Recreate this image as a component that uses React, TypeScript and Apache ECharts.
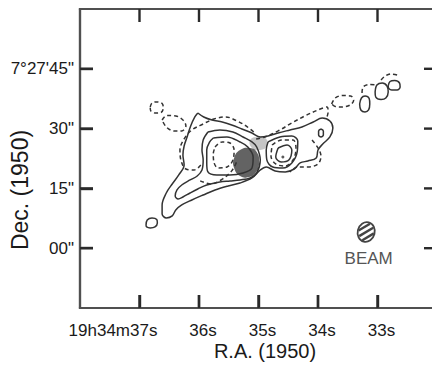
import React, { useEffect, useRef } from "react";
import * as echarts from "echarts";

// Axis ticks and labels (R.A. in seconds of time, Dec. in arcsec offsets from 7°27')
const raMin = 32;
const raMax = 38;
const decMin = -15;
const decMax = 60;
const raTicks = [33, 34, 35, 36, 37];
const raTickLabels = ["33s", "34s", "35s", "36s", "37s"];
const raPrefix = "19h34m";
const decTicks = [0, 15, 30, 45];
const decTickLabels = ['00"', '15"', '30"', "7°27'45\""];
const xTitle = "R.A. (1950)";
const yTitle = "Dec. (1950)";
const beamText = "BEAM";

// Solid contours [RA s, Dec "]
const solidOuter = [[36.02,33.92],[35.92,32.92],[35.78,32.16],[35.61,31.66],[35.45,30.91],[35.28,29.91],[35.11,28.90],[34.97,27.90],[34.84,28.15],[34.67,28.90],[34.47,29.66],[34.27,30.41],[34.08,31.66],[33.93,32.67],[33.80,31.91],[33.75,30.16],[33.80,27.90],[33.92,26.14],[34.00,24.64],[34.03,22.63],[34.17,21.88],[34.30,21.38],[34.40,19.87],[34.55,19.12],[34.72,19.37],[34.87,20.37],[34.97,19.62],[35.11,17.62],[35.31,16.36],[35.51,15.61],[35.73,14.61],[35.93,13.35],[36.12,12.10],[36.29,10.85],[36.39,9.59],[36.45,8.09],[36.55,7.59],[36.62,8.59],[36.62,10.85],[36.55,13.85],[36.45,16.11],[36.34,18.37],[36.25,20.88],[36.27,23.39],[36.25,25.64],[36.20,27.90],[36.14,30.66],[36.07,32.92],[36.02,33.92]];
const solidMid = [[35.85,29.15],[35.65,29.66],[35.43,29.15],[35.26,27.90],[35.11,26.65],[35.03,25.39],[34.97,22.13],[35.03,18.87],[35.14,17.62],[35.31,17.12],[35.48,16.86],[35.65,16.61],[35.87,15.86],[36.02,14.86],[36.15,13.85],[36.27,12.85],[36.35,12.35],[36.40,13.10],[36.37,14.61],[36.29,15.86],[36.15,17.12],[36.03,18.12],[35.95,19.62],[35.93,22.13],[35.95,24.64],[35.93,27.15],[35.85,29.15]];
const solidInner = [[35.76,27.65],[35.53,27.90],[35.31,26.65],[35.18,25.39],[35.09,22.88],[35.11,20.12],[35.26,18.87],[35.48,18.37],[35.70,18.37],[35.85,19.12],[35.87,21.38],[35.87,24.64],[35.82,26.65],[35.76,27.65]];
const eastLobe = [[34.84,26.65],[34.64,27.90],[34.44,28.15],[34.34,26.90],[34.35,24.14],[34.44,21.38],[34.59,20.12],[34.76,20.37],[34.86,22.13],[34.87,24.64],[34.84,26.65]];
const eastCore = [[34.67,25.14],[34.52,25.89],[34.44,24.64],[34.49,22.13],[34.62,21.63],[34.71,22.88],[34.67,25.14]];
const headKnot = [[33.95,29.91],[33.91,29.41],[33.91,28.40],[33.95,27.90],[33.99,28.40],[33.99,29.41],[33.95,29.91]];
const knotA = [[33.30,36.17],[33.27,37.68],[33.21,38.18],[33.14,37.55],[33.13,36.17],[33.15,34.67],[33.21,34.17],[33.28,34.67],[33.30,36.17]];
const knotB = [[33.04,39.19],[33.01,40.94],[32.92,41.44],[32.84,40.69],[32.82,39.19],[32.86,37.68],[32.94,37.30],[33.03,37.93],[33.04,39.19]];
const knotC = [[32.82,40.69],[32.79,41.82],[32.71,42.07],[32.63,41.44],[32.62,40.44],[32.67,39.69],[32.76,39.69],[32.81,40.06],[32.82,40.69]];
const knotSW = [[36.89,5.83],[36.87,7.08],[36.79,7.59],[36.71,7.21],[36.70,6.33],[36.74,5.33],[36.82,5.08],[36.88,5.33],[36.89,5.83]];

// Dashed contours
const dashNW1 = [[36.82,35.42],[36.79,36.42],[36.71,36.68],[36.62,36.30],[36.60,35.17],[36.64,34.04],[36.74,33.92],[36.81,34.42],[36.82,35.42]];
const dashNW2 = [[36.62,32.16],[36.54,33.29],[36.39,33.17],[36.27,32.16],[36.22,30.66],[36.29,29.41],[36.42,29.41],[36.55,30.41],[36.62,32.16]];
const dashWest = [[35.97,20.88],[36.08,19.62],[36.22,19.87],[36.30,21.88],[36.32,24.64],[36.25,27.40],[36.12,29.66],[35.93,31.16],[35.75,32.41],[35.55,32.92],[35.36,31.91],[35.21,30.66],[35.08,29.15]];
const dashWestCore = [[35.73,25.39],[35.61,26.65],[35.48,26.40],[35.41,24.64],[35.43,22.13],[35.53,20.37],[35.68,20.12],[35.75,21.63],[35.76,23.64],[35.73,25.39]];
const dashNorth = [[35.04,27.40],[34.89,27.90],[34.67,29.41],[34.44,31.41],[34.22,33.17],[34.00,34.67],[33.85,35.42],[33.83,34.17],[33.85,32.92]];
const dashEastSouth = [[34.10,27.15],[34.00,25.14],[33.95,23.14],[34.00,21.13],[34.17,20.37],[34.34,20.37],[34.47,19.12]];
const dashEastMid = [[34.77,25.89],[34.61,27.15],[34.42,27.15],[34.37,25.14],[34.42,22.13],[34.55,20.63],[34.71,21.13],[34.79,23.13],[34.77,25.89]];
const dashKnot = [[33.77,36.17],[33.71,37.68],[33.58,38.31],[33.45,38.18],[33.40,37.18],[33.46,35.93],[33.60,35.42],[33.71,35.55],[33.77,36.17]];
const dashArcA = [[33.26,38.93],[33.24,40.44],[33.14,41.07],[33.01,40.94]];
const dashArcB = [[32.94,42.20],[32.87,43.20],[32.77,43.70],[32.67,43.45]];
const dashSouth = [[35.98,16.9],[35.80,16.1],[35.60,17.4],[35.45,19.4],[35.36,21.9]];

// Stippled regions
const stippleCore = [[35.31,24.64],[35.14,25.14],[35.03,24.14],[34.99,21.63],[35.04,19.12],[35.16,17.87],[35.31,18.12],[35.41,20.12],[35.41,22.63]];
const stippleLight = [[35.14,27.15],[35.01,27.90],[34.87,27.40],[34.86,25.64],[34.97,24.64],[35.11,25.14]];
const peakDot = [[34.59, 22.88]];

// Beam
const beamCenter = [33.19, 4.07];
const beamRadii = [0.143, 2.5];

const solidContours = [solidOuter, solidMid, solidInner, eastLobe, eastCore, headKnot, knotA, knotB, knotC, knotSW];
const dashedContours = [dashNW1, dashNW2, dashWest, dashWestCore, dashNorth, dashEastSouth, dashEastMid, dashKnot, dashArcA, dashArcB, dashSouth];

const FONT = "'Liberation Sans', Arial, Helvetica, sans-serif";
const LINE = "#333";
const FRAME = "#505050";
const TICK = "#2a2a2a";
const TICK_LEN = 13;
const TICK_W = 2.4;
const FRAME_W = 2.2;

export default function App() {
  const ref = useRef<HTMLDivElement>(null);
  useEffect(() => {
    if (!ref.current) return;
    const chart = echarts.init(ref.current, undefined, { renderer: "svg" });

    const lineSeries = (pts: number[][], dashed: boolean) => ({
      type: "line",
      data: pts,
      showSymbol: false,
      symbol: "none",
      smooth: 0.35,
      clip: false,
      silent: true,
      z: 4,
      lineStyle: { color: LINE, width: 1.5, type: dashed ? [4, 3] : "solid" },
    });

    const polySeries = (pts: number[][], fill: string) => ({
      type: "custom",
      silent: true,
      z: 2,
      data: [pts[0]],
      renderItem: (_p: any, api: any) => ({
        type: "polygon",
        shape: { points: pts.map((q) => api.coord(q)), smooth: 0.5 },
        style: { fill },
      }),
    });

    const beamSeries = {
      type: "custom",
      silent: true,
      z: 5,
      data: [beamCenter],
      renderItem: (_p: any, api: any) => {
        const c = api.coord(beamCenter);
        const sz = api.size(beamRadii);
        const rx = sz[0];
        const ry = sz[1];
        const A = 1 / (2 * rx * rx) + 1 / (2 * ry * ry);
        const B = 1 / (rx * rx) - 1 / (ry * ry);
        const hatch: any[] = [];
        for (const t of [-0.6 * rx, 0, 0.6 * rx]) {
          const disc = (t * B) ** 2 - 4 * A * (t * t * A - 1);
          if (disc <= 0) continue;
          const s1 = (-t * B - Math.sqrt(disc)) / (2 * A) + 1;
          const s2 = (-t * B + Math.sqrt(disc)) / (2 * A) - 1;
          const pt = (s: number) => [(t + s) / Math.SQRT2, (t - s) / Math.SQRT2];
          const a = pt(s1);
          const b = pt(s2);
          hatch.push({
            type: "line",
            shape: { x1: a[0], y1: a[1], x2: b[0], y2: b[1] },
            style: { stroke: "#444", lineWidth: 2.4 },
          });
        }
        return {
          type: "group",
          children: [
            {
              type: "group",
              x: c[0],
              y: c[1],
              rotation: -0.25,
              children: [
                { type: "ellipse", shape: { cx: 0, cy: 0, rx, ry }, style: { fill: "#fff", stroke: "#444", lineWidth: 1.8 } },
                ...hatch,
              ],
            },
            {
              type: "text",
              x: c[0] + 2.5,
              y: c[1] + 26.5,
              style: { text: beamText, fontSize: 17, fontFamily: FONT, fill: "#555", align: "center", verticalAlign: "middle" },
            },
          ],
        };
      },
    };

    const titles = [
      { type: "text", z: 100, x: 265, y: 351, style: { text: xTitle, fontSize: 20, fontFamily: FONT, fill: "#1a1a1a", align: "center", verticalAlign: "middle" } },
      { type: "text", z: 100, x: 20, y: 190, rotation: Math.PI / 2, style: { text: yTitle, fontSize: 23, fontFamily: FONT, fill: "#1a1a1a", align: "center", verticalAlign: "middle" } },
    ];

    const option: any = {
      animation: false,
      backgroundColor: "#fff",
      grid: { left: 80, top: 9, width: 357, height: 299, show: false, containLabel: false, outerBoundsMode: "none" },
      xAxis: {
        type: "value", min: raMin, max: raMax, interval: 1, inverse: true, position: "bottom",
        axisLine: { show: true, onZero: false, lineStyle: { color: FRAME, width: FRAME_W } },
        splitLine: { show: false },
        axisTick: { show: true, inside: true, length: TICK_LEN, lineStyle: { color: TICK, width: TICK_W } },
        axisLabel: {
          margin: 14, fontSize: 17, color: "#1a1a1a", fontFamily: FONT, padding: [0, 0, 0, 8],
          showMinLabel: false, showMaxLabel: false,
          formatter: (v: number) => {
            const i = raTicks.indexOf(Math.round(v));
            if (i < 0) return "";
            if (i === raTicks.length - 1) return `{p|${raPrefix}}${raTickLabels[i]}{q|}`;
            return raTickLabels[i];
          },
          rich: {
            p: { fontSize: 17, fontFamily: FONT, color: "#1a1a1a" },
            q: { width: 61, fontSize: 17, fontFamily: FONT },
          },
        },
      },
      yAxis: {
        type: "value", min: decMin, max: decMax, interval: 15, position: "left",
        axisLine: { show: true, onZero: false, lineStyle: { color: FRAME, width: FRAME_W } },
        splitLine: { show: false },
        axisTick: { show: true, inside: true, length: TICK_LEN, lineStyle: { color: TICK, width: TICK_W } },
        axisLabel: {
          margin: 6, fontSize: 17, color: "#1a1a1a", fontFamily: FONT,
          showMinLabel: false, showMaxLabel: false,
          formatter: (v: number) => {
            const i = decTicks.indexOf(Math.round(v));
            return i < 0 ? "" : decTickLabels[i];
          },
        },
      },
      graphic: titles,
      series: [
        polySeries(stippleLight, "rgba(150,150,150,0.55)"),
        polySeries(stippleCore, "rgba(60,60,60,0.8)"),
        ...solidContours.map((c) => lineSeries(c, false)),
        ...dashedContours.map((c) => lineSeries(c, true)),
        { type: "scatter", data: peakDot, symbolSize: 3, itemStyle: { color: "#333" }, silent: true, z: 5 },
        beamSeries,
      ],
    };
    chart.setOption(option);

    // Frame and inward ticks on all four sides, positioned through the axis scales
    const px = (v: number[]) => chart.convertToPixel({ gridIndex: 0 }, v) as number[];
    const tl = px([raMax, decMax]);
    const br = px([raMin, decMin]);
    const marks: any[] = [];
    const bar = (x: number, y: number, w: number, h: number, fill: string) =>
      marks.push({ type: "rect", z: 100, silent: true, shape: { x, y, width: w, height: h }, style: { fill } });
    bar(tl[0] - FRAME_W / 2, tl[1] - FRAME_W / 2, br[0] - tl[0] + FRAME_W, FRAME_W, FRAME);
    bar(tl[0] - FRAME_W / 2, br[1] - FRAME_W / 2, br[0] - tl[0] + FRAME_W, FRAME_W, FRAME);
    bar(tl[0] - FRAME_W / 2, tl[1] - FRAME_W / 2, FRAME_W, br[1] - tl[1] + FRAME_W, FRAME);
    bar(br[0] - FRAME_W / 2, tl[1] - FRAME_W / 2, FRAME_W, br[1] - tl[1] + FRAME_W, FRAME);
    raTicks.forEach((v) => {
      const b = px([v, decMin]);
      const t = px([v, decMax]);
      bar(b[0] - TICK_W / 2, b[1] - TICK_LEN, TICK_W, TICK_LEN, TICK);
      bar(t[0] - TICK_W / 2, t[1], TICK_W, TICK_LEN, TICK);
    });
    decTicks.forEach((v) => {
      const l = px([raMax, v]);
      const r = px([raMin, v]);
      bar(l[0], l[1] - TICK_W / 2, TICK_LEN, TICK_W, TICK);
      bar(r[0] - TICK_LEN, r[1] - TICK_W / 2, TICK_LEN, TICK_W, TICK);
    });
    chart.setOption({ graphic: [...titles, ...marks] });

    return () => chart.dispose();
  }, []);
  return <div ref={ref} style={{ position: "absolute", left: 0, top: 0, width: 432, height: 366 }} />;
}
